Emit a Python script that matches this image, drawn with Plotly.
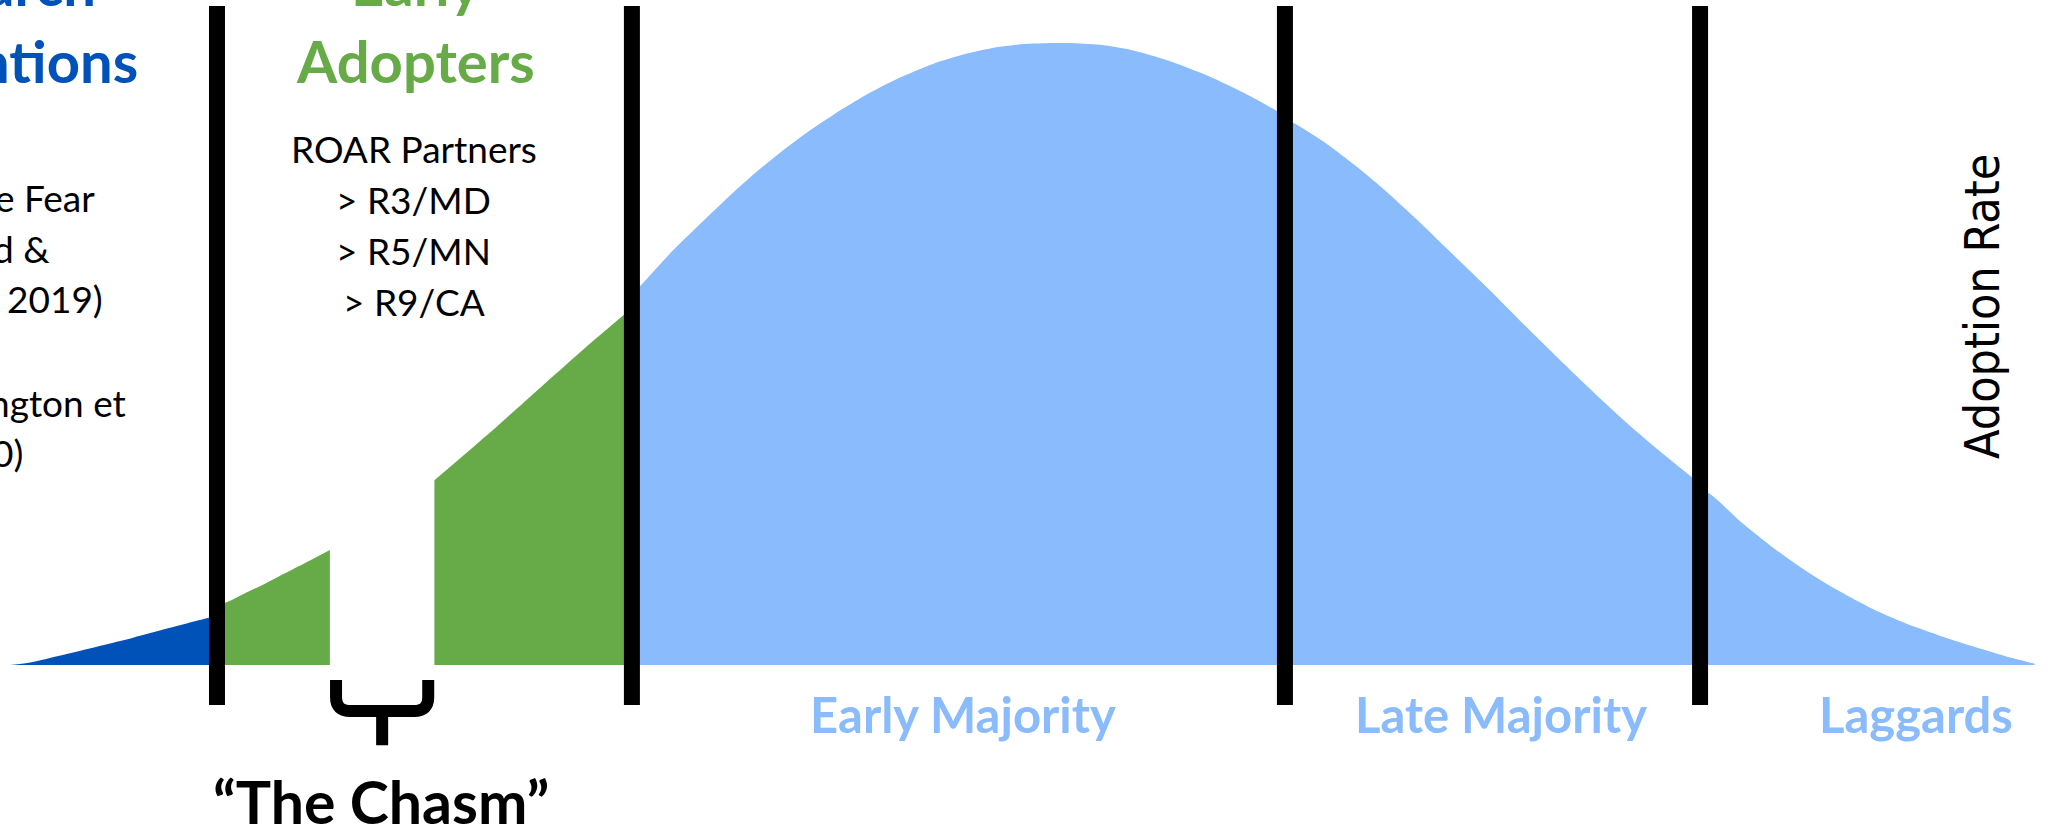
import plotly.graph_objects as go

# ---- data (x: time units 0-100, y: adoption rate, peak = 100) ----
innov_x = [0.5, 1.6, 3.3, 4.9, 6.5, 8.2, 10.2, 10.6]
innov_y = [0, 0.5, 1.8, 3.1, 4.4, 5.9, 7.6, 7.9]

early_pre_x = [10.6, 11.0, 12.0, 13.0, 14.6, 16.1]
early_pre_y = [9.8, 10.0, 11.6, 13.2, 15.9, 18.5]

early_post_x = [21.2, 22.8, 24.4, 26.0, 27.6, 29.2, 30.84]
early_post_y = [29.7, 34.2, 38.8, 43.5, 48.2, 52.8, 57.4]

early_maj_x = [30.84, 31.2, 32.6, 34.2, 35.8, 37.4, 39.0, 40.7, 42.3, 43.9, 45.5, 47.2,
               48.8, 50.4, 52.1, 53.7, 55.3, 57.0, 58.6, 60.2, 61.5, 62.3, 62.71]
early_maj_y = [59.9, 60.8, 65.8, 71.0, 76.0, 80.6, 84.7, 88.5, 91.7, 94.4, 96.6, 98.3,
               99.4, 99.9, 100, 99.7, 98.8, 97.2, 95.2, 92.8, 90.6, 89.1, 88.3]

late_maj_x = [62.71, 63.1, 64.7, 66.3, 67.9, 69.5, 71.1, 72.7, 74.3, 75.9, 77.5, 79.1,
              80.7, 82.3, 82.97]
late_maj_y = [87.8, 87.2, 83.9, 79.9, 75.4, 70.5, 65.4, 60.3, 55.0, 49.8, 44.7, 39.8,
              35.2, 30.9, 29.2]

laggard_x = [82.97, 83.4, 85.0, 86.6, 88.2, 89.8, 91.4, 93.0, 94.6, 96.2, 97.8, 98.6, 99.3]
laggard_y = [28.0, 27.6, 22.9, 18.7, 15.0, 11.8, 9.0, 6.7, 4.8, 3.1, 1.5, 0.8, 0.2]

boundaries = [10.59, 30.84, 62.71, 82.97]
chasm_start, chasm_end = 16.1, 21.2

bottom_labels = ["Early Majority", "Late Majority", "Laggards"]
bottom_label_x = [47.0, 73.26, 93.5]

adopter_lines = ["ROAR Partners", "> R3/MD", "> R5/MN", "> R9/CA"]
left_lines = ["e Fear", "d &", "2019)", "ngton et", "0)"]

# ---- styles ----
DARK_BLUE = "#0052B8"
GREEN = "#66AB47"
LIGHT_BLUE = "#8ABBFD"

fig = go.Figure()

def area(x, y, color):
    fig.add_trace(go.Scatter(x=x, y=y, mode="lines", fill="tozeroy",
                             fillcolor=color,
                             line=dict(width=0, color=color, shape="spline", smoothing=0.8),
                             hoverinfo="skip", showlegend=False))

area(innov_x, innov_y, DARK_BLUE)
area(early_pre_x, early_pre_y, GREEN)
area(early_post_x, early_post_y, GREEN)
area(early_maj_x, early_maj_y, LIGHT_BLUE)
area(late_maj_x, late_maj_y, LIGHT_BLUE)
area(laggard_x, laggard_y, LIGHT_BLUE)

shapes = []
LINE_BOTTOM, LINE_TOP = -6.43, 105.95
for b in boundaries:
    shapes.append(dict(type="line", xref="x", yref="y", x0=b, x1=b, y0=LINE_BOTTOM, y1=LINE_TOP,
                       line=dict(color="black", width=16)))

# chasm brace
xl = chasm_start + 0.3
xr = chasm_end - 0.3
xm = (chasm_start + chasm_end) / 2
yt, yb, ys = -2.4, -7.4, -12.9
path = (f"M {xl},{yt} L {xl},{yb+2.2} Q {xl},{yb} {xl+0.7},{yb} "
        f"L {xr-0.7},{yb} Q {xr},{yb} {xr},{yb+2.2} L {xr},{yt} "
        f"M {xm},{yb} L {xm},{ys}")
shapes.append(dict(type="path", xref="x", yref="y", path=path,
                   line=dict(color="black", width=12)))

anns = []
def ann(text, x, y, size, color, weight="normal", xanchor="center", family="Lato", angle=0):
    anns.append(dict(text=text, x=x, y=y, xref="x", yref="paper", showarrow=False,
                     xanchor=xanchor, yanchor="middle", textangle=angle,
                     font=dict(family=family, size=size, color=color, weight=weight)))

# headings
ann("Early", 20.3, 1.0204, 58, GREEN, "bold")
ann("Adopters", 20.3, 0.9268, 58, GREEN, "bold")
ann("arch", 4.78, 1.0204, 58, DARK_BLUE, "bold", xanchor="right")
ann("ntions", 6.83, 0.9268, 58, DARK_BLUE, "bold", xanchor="right")

for t, yy in zip(adopter_lines, [0.8215, 0.7603, 0.6990, 0.6378]):
    ann(t, 20.2, yy, 37, "black")

for t, xx, yy in zip(left_lines, [4.73, 2.54, 5.12, 6.25, 1.22],
                     [0.7627, 0.7014, 0.6414, 0.5166, 0.4565]):
    ann(t, xx, yy, 37, "black", xanchor="right")

for t, xx in zip(bottom_labels, bottom_label_x):
    ann(t, xx, 0.1429, 49, LIGHT_BLUE, "bold")

ann("\u201cThe Chasm\u201d", 18.6, 0.0384, 59, "black", "bold")
ann("Adoption Rate", 96.73, 0.6315, 48, "black", family="DejaVu Sans Condensed, DejaVu Sans", angle=-90)

fig.update_layout(
    width=2049, height=833,
    margin=dict(l=0, r=0, t=0, b=0),
    paper_bgcolor="white", plot_bgcolor="white",
    xaxis=dict(range=[0, 100], visible=False, fixedrange=True),
    yaxis=dict(range=[-27.01, 106.91], visible=False, fixedrange=True),
    shapes=shapes, annotations=anns, showlegend=False,
)

fig.write_html("out.html")
